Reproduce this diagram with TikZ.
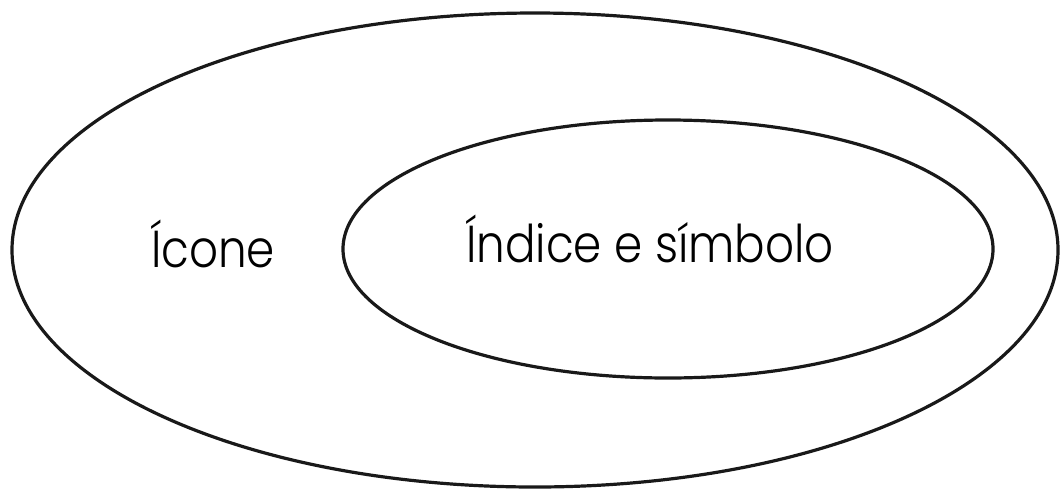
\documentclass[tikz,border=0pt]{standalone}
\usepackage{fontspec}
\setmainfont{Poppins}[UprightFont=* Light]
\begin{document}
\begin{tikzpicture}[x=1pt,y=-1pt,
  ring/.style={draw=black!90,line width=3.2pt},
  label/.style={font=\fontsize{52}{52}\selectfont,inner sep=0pt,anchor=base,xscale=0.87}]
\useasboundingbox (0,0) rectangle (1060,491);
\draw[ring] (535,250) ellipse [x radius=523, y radius=237];
\draw[ring] (668,249) ellipse [x radius=325, y radius=129];
\node[label] (icone) at (213,267) {Ícone};
\node[label] (indice) at (650,262) {Índice e símbolo};
\end{tikzpicture}
\end{document}
